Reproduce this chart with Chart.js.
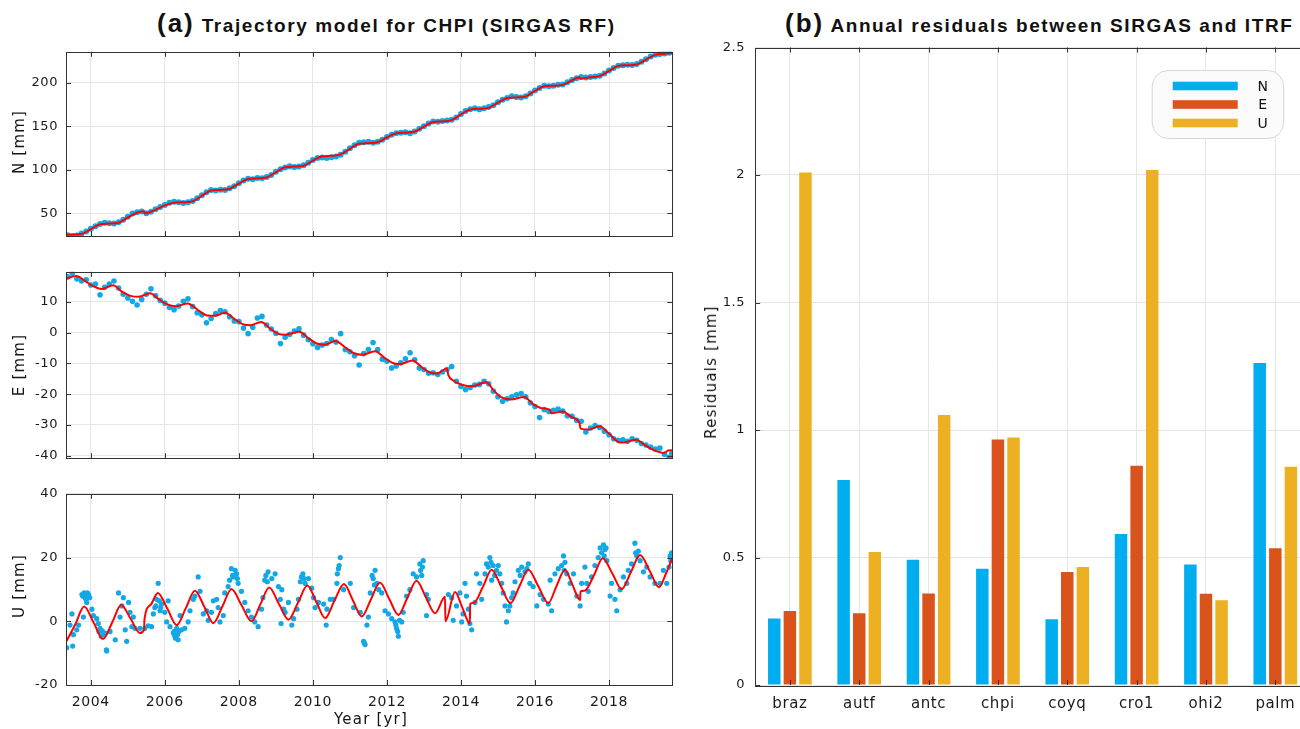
<!DOCTYPE html>
<html lang="en">
<head>
<meta charset="UTF-8">
<title>CHPI trajectory and SIRGAS / ITRF residuals</title>
<script src="https://cdn.jsdelivr.net/npm/chart.js@4.4.1/dist/chart.umd.min.js"></script>
<style>
    html, body { margin: 0; padding: 0; background: #fff; overflow: hidden; }
    body { width: 1300px; height: 729px; position: relative; font-family: 'Liberation Sans', Arial, sans-serif; }
    canvas { position: absolute; }
    .title { position: absolute; font-weight: bold; font-size: 19px; letter-spacing: 1.6px; white-space: nowrap; color: #111; line-height: 30px; }
    .title b { font-size: 26px; letter-spacing: 2px; }
    .axis-label { position: absolute; font-family: 'DejaVu Sans', sans-serif; font-size: 15px; letter-spacing: 1.2px; white-space: nowrap; color: #151515; transform: translate(-50%, -50%); }
    .axis-label.vertical { transform: translate(-50%, -50%) rotate(-90deg); }
</style>
</head>
<body>
<div class="title" style="left:157px; top:8px;"><b>(a)</b> Trajectory model for CHPI (SIRGAS RF)</div>
<div class="title" style="left:785px; top:8px;"><b>(b)</b> Annual residuals between SIRGAS and ITRF</div>
<canvas id="chart-n" width="690" height="216" style="left:0; top:36px;"></canvas>
<canvas id="chart-e" width="690" height="218" style="left:0; top:256px;"></canvas>
<canvas id="chart-u" width="690" height="251" style="left:0; top:478px;"></canvas>
<canvas id="chart-res" width="625" height="729" style="left:690px; top:0;"></canvas>
<div class="axis-label vertical" style="left:19px; top:142px;">N [mm]</div>
<div class="axis-label vertical" style="left:19px; top:365px;">E [mm]</div>
<div class="axis-label vertical" style="left:19px; top:586px;">U [mm]</div>
<div class="axis-label" style="left:371px; top:719px;">Year [yr]</div>
<div class="axis-label vertical" style="left:711px; top:372px;">Residuals [mm]</div>
<script>
// ---- data: time series (years, mm) ----
const gnssEpochs = [
    2003.375, 2003.5, 2003.625, 2003.75, 2003.875,
    2004.0, 2004.125, 2004.25, 2004.375, 2004.5, 2004.625, 2004.75, 2004.875,
    2005.0, 2005.125, 2005.25, 2005.375, 2005.5, 2005.625, 2005.75, 2005.875,
    2006.0, 2006.125, 2006.25, 2006.375, 2006.5, 2006.625, 2006.75, 2006.875,
    2007.0, 2007.125, 2007.25, 2007.375, 2007.5, 2007.625, 2007.75, 2007.875,
    2008.0, 2008.125, 2008.25, 2008.375, 2008.5, 2008.625, 2008.75, 2008.875,
    2009.0, 2009.125, 2009.25, 2009.375, 2009.5, 2009.625, 2009.75, 2009.875,
    2010.0, 2010.125, 2010.25, 2010.375, 2010.5, 2010.625, 2010.75, 2010.875,
    2011.0, 2011.125, 2011.25, 2011.375, 2011.5, 2011.625, 2011.75, 2011.875,
    2012.0, 2012.125, 2012.25, 2012.375, 2012.5, 2012.625, 2012.75, 2012.875,
    2013.0, 2013.125, 2013.25, 2013.375, 2013.5, 2013.625, 2013.75, 2013.875,
    2014.0, 2014.125, 2014.25, 2014.375, 2014.5, 2014.625, 2014.75, 2014.875,
    2015.0, 2015.125, 2015.25, 2015.375, 2015.5, 2015.625, 2015.75, 2015.875,
    2016.0, 2016.125, 2016.25, 2016.375, 2016.5, 2016.625, 2016.75, 2016.875,
    2017.0, 2017.125, 2017.25, 2017.375, 2017.5, 2017.625, 2017.75, 2017.875,
    2018.0, 2018.125, 2018.25, 2018.375, 2018.5, 2018.625, 2018.75, 2018.875,
    2019.0, 2019.125, 2019.25, 2019.375, 2019.5, 2019.625, 2019.7
];
const northObs = [
    24.5, 23.8, 24.2, 26.5, 29,
    32, 35, 37.5, 39, 38.5, 38, 39.5, 42.5,
    46, 49.5, 51, 52, 50, 51.5, 54.5, 57,
    59.5, 62, 63, 62.5, 61.8, 62.5, 64, 67,
    70.5, 74, 76.5, 76, 77, 76.5, 78.5, 81,
    84.5, 87.5, 89.5, 89, 90.5, 90, 91.5, 94,
    97.5, 100.5, 102.5, 104, 103, 103.5, 105, 108,
    111, 113.5, 114, 113.5, 114.2, 115, 117, 120.5,
    124.5, 128, 131, 131.5, 132, 131, 132, 134.5,
    137.5, 140, 142, 142.5, 143, 142, 144, 147,
    150, 153, 155.5, 155, 155.8, 156.5, 157.5, 160,
    164, 167.5, 169.5, 170.5, 169.5, 170.5, 172, 174,
    177.5, 180.5, 182.5, 184.5, 183.5, 183, 184.5, 187.5,
    191, 194, 196.5, 196, 196.5, 197.5, 198, 200.5,
    203, 205, 206.5, 206, 206.5, 207, 208, 210.5,
    214, 217, 219.5, 220, 220.5, 220.2, 221.5, 224,
    227, 230, 232, 233, 233.5, 234.5, 235.5
];
const eastObs = [
    18.2, 19.3, 17.5, 16.8, 17.2,
    15.5, 15.8, 12.3, 14.8, 15.8, 16.8, 14.5, 12.5,
    11.3, 10.2, 9, 10.8, 12.5, 14.3, 12, 10.5,
    9.6, 8.2, 7.5, 8.7, 10.2, 11, 8.5, 6.5,
    5.8, 3.2, 4.6, 6.2, 7.2, 6.8, 5.2, 3.8,
    3.6, 1.5, -0.3, 1.8, 4.8, 5.3, 2.5, 1.2,
    -0.2, -3.5, -1.5, -0.5, 0.5, 1.3, -0.8, -2.3,
    -3.6, -4.8, -4, -3.5, -2.2, -3, -0.3, -5.5,
    -6.2, -7.5, -10.5, -6.8, -5.5, -3.2, -5.5, -8.6,
    -9.3, -11.5, -10.8, -9.8, -8.5, -6.5, -8.8, -11.5,
    -12, -13.2, -13, -13.6, -12.8, -12, -11, -15.8,
    -17.5, -18.5, -17.8, -17, -16.8, -15.8, -16.6, -19,
    -20.8, -22.3, -21.5, -20.8, -20.2, -19.8, -20.8, -22.8,
    -24, -27.6, -25, -25.6, -25.2, -24.8, -25.5, -27,
    -27.2, -28.5, -28.8, -32.3, -31, -30.2, -30.8, -32,
    -33.2, -34.5, -35, -34.8, -35.3, -34.5, -35, -36,
    -36.5, -37.2, -37.8, -37.5, -39.5, -40.5, -39.2
];
const upEpochs = [
    2003.35, 2003.44, 2003.49, 2003.51, 2003.53, 2003.62, 2003.67, 2003.76, 2003.8, 2003.85,
    2003.89, 2003.94, 2004.03, 2004.07, 2004.16, 2004.2, 2004.25, 2004.34, 2004.39, 2004.43,
    2004.52, 2004.66, 2004.75, 2004.79, 2004.84, 2004.88, 2004.93, 2004.97, 2005.02, 2005.06,
    2005.11, 2005.15, 2005.19, 2005.33, 2005.46, 2005.55, 2005.64, 2005.69, 2005.73, 2005.78,
    2005.82, 2005.87, 2005.91, 2006.0, 2006.05, 2006.09, 2006.14, 2006.23, 2006.27, 2006.32,
    2006.36, 2006.41, 2006.45, 2006.54, 2006.63, 2006.68, 2006.77, 2006.81, 2006.9, 2006.95,
    2007.04, 2007.13, 2007.17, 2007.26, 2007.31, 2007.4, 2007.44, 2007.49, 2007.58, 2007.62,
    2007.71, 2007.8, 2007.85, 2007.94, 2007.98, 2008.07, 2008.16, 2008.25, 2008.34, 2008.43,
    2008.52, 2008.61, 2008.65, 2008.7, 2008.79, 2008.89, 2008.98, 2009.07, 2009.12, 2009.14,
    2009.16, 2009.21, 2009.25, 2009.34, 2009.43, 2009.48, 2009.57, 2009.61, 2009.66, 2009.73,
    2009.79, 2009.88, 2009.97, 2010.02, 2010.06, 2010.15, 2010.29, 2010.36, 2010.38, 2010.47,
    2010.56, 2010.65, 2010.66, 2010.69, 2010.74, 2010.83, 2011.01, 2011.1, 2011.28, 2011.37,
    2011.41, 2011.46, 2011.5, 2011.55, 2011.6, 2011.68, 2011.73, 2011.78, 2011.86, 2011.95,
    2012.04, 2012.13, 2012.22, 2012.26, 2012.31, 2012.4, 2012.44, 2012.53, 2012.62, 2012.71,
    2012.8, 2012.89, 2012.94, 2012.98, 2013.07, 2013.07, 2013.12, 2013.66, 2013.75, 2013.79,
    2013.88, 2013.97, 2014.02, 2014.06, 2014.11, 2014.15, 2014.2, 2014.24, 2014.29, 2014.38,
    2014.42, 2014.51, 2014.56, 2014.65, 2014.69, 2014.78, 2014.83, 2014.87, 2014.96, 2015.01,
    2015.05, 2015.1, 2015.14, 2015.19, 2015.23, 2015.28, 2015.32, 2015.37, 2015.41, 2015.46,
    2015.55, 2015.64, 2015.73, 2015.82, 2015.86, 2015.95, 2016.05, 2016.14, 2016.23, 2016.36,
    2016.41, 2016.45, 2016.54, 2016.63, 2016.77, 2016.81, 2016.86, 2016.95, 2017.04, 2017.13,
    2017.22, 2017.26, 2017.35, 2017.4, 2017.44, 2017.53, 2017.62, 2017.71, 2017.76, 2017.85,
    2017.89, 2017.94, 2018.03, 2018.07, 2018.16, 2018.21, 2018.3, 2018.39, 2018.48, 2018.52,
    2018.61, 2018.7, 2018.75, 2018.84, 2018.93, 2019.02, 2019.11, 2019.24, 2019.38, 2019.47,
    2019.56, 2019.65, 2019.69,
    // denser clusters
    2003.78, 2003.82, 2003.87, 2003.91, 2003.97, 2004.22, 2004.28, 2004.31, 2004.42, 2005.76,
    2005.85, 2005.89, 2006.25, 2006.29, 2006.34, 2006.38, 2007.75, 2007.83, 2007.9, 2007.96,
    2008.73, 2008.77, 2009.69, 2009.76, 2010.71, 2011.39, 2011.63, 2011.66, 2012.24, 2012.29,
    2012.34, 2012.91, 2012.96, 2014.74, 2014.81, 2014.91, 2015.6, 2015.78, 2016.72, 2016.79,
    2017.8, 2017.87, 2017.92, 2018.72, 2018.79, 2019.62, 2019.67
];
const upObs = [
    -8.3, -1.2, 2.3, -7.8, -4.2, -2.7, -1.2, 8.4, 1.3, 7.4,
    5.9, 8.4, 3.8, 1.8, 0.8, -0.7, -2.2, -4.2, -3.7, -9.3,
    -3.2, -5.8, 8.9, 1.3, 4.8, 7.4, -2.7, -6.3, 5.9, 2.8,
    -1.7, 1.3, -2.2, -2.2, -2.2, -1.4, -1.7, 2.3, 4.3, 6.9,
    11.9, 3.3, 5.4, 2.8, -0.2, 6.4, -1.7, -3.7, -4.7, -2.2,
    -5.8, 1.8, -2.7, -2.2, -0.2, 3.3, 6.9, 7.9, 13.9, 9.4,
    2.3, 3.3, 0.3, 2.8, 6.4, 6.9, 4.3, -0.2, 1.8, 8.9,
    10.9, 16.5, 13.9, 14.9, 11.9, 9.4, 5.9, 3.3, 1.3, -0.2,
    -1.7, 3.8, 7.4, 12.9, 15.5, 13.4, 14.9, 10.9, 6.9, -0.7,
    9.9, 3.8, 2.8, 5.9, -1.2, 0.8, 3.8, 6.9, 12.4, 14.9,
    11.9, 13.4, 10.4, 7.4, 4.3, 5.9, 5.4, -1.2, 3.8, 6.9,
    6.9, 11.9, 14.9, 16.5, 20, 9.9, 11.9, 4.3, 2.8, -6.3,
    -7.3, -1.2, 1.3, 8.9, 14.4, 16, 11.9, 9.9, 8.9, 3.3,
    2.3, 0.8, -0.2, -2.2, -4.7, -0.2, 2.8, 7.9, 9.9, 14.9,
    13.9, 18, 14.4, 19, 8.4, 1.8, 6.9, 8.4, 7.4, 0.3,
    4.8, 8.9, -0.2, 2.3, 11.9, 7.9, 3.8, -0.7, -2.7, 5.9,
    14.9, 11.9, 6.9, 14.9, 18, 20, 12.9, 17.5, 16, 17.5,
    14.9, 11.9, 8.9, 4.8, -0.2, 3.3, 4.8, 7.4, 8.9, 12.4,
    16, 17, 15.5, 18, 11.9, 10.9, 4.8, 8.4, 6.9, 5.4,
    12.9, 3.3, 14.9, 16.5, 20.5, 18.5, 14.9, 11.9, 14.9, 7.9,
    4.8, 11.9, 17, 11.9, 9.4, 13.9, 17.5, 20, 23, 24,
    22.5, 19, 7.9, 11.9, 6.9, 3.3, 9.9, 13.9, 11.9, 16,
    18, 24.5, 20.5, 19, 15.5, 17, 13.9, 11.9, 11.9, 16,
    11.9, 20.5, 21.5,
    // denser clusters
    7.9, 8.9, 6.9, 8.9, 7.4, -3.2, -4.7, -3, -9, 4.8,
    6.4, 4.3, -3.2, -5.3, -4.2, -3.2, 12.9, 14.4, 16, 13.4,
    14.4, 12.4, 13.9, 13.4, 17.5, -6.8, 13.4, 11.4, -1.2, -3.2,
    0.3, 16, 17, 17, 18.5, 14.4, 14.4, 16.5, 17.5, 16,
    21.5, 20.5, 23, 21.5, 22, 17, 19
];

// ---- data: trajectory model (red curves) ----
const northModelYears = [
    2003.35, 2003.5, 2003.75, 2004.0, 2004.25, 2004.5, 2004.75, 2005.0, 2005.25, 2005.44,
    2005.45, 2005.75, 2006.0, 2006.25, 2006.5, 2006.75, 2007.0, 2007.25, 2007.5, 2007.75,
    2008.0, 2008.25, 2008.5, 2008.75, 2009.0, 2009.25, 2009.5, 2009.75, 2010.0, 2010.25,
    2010.5, 2010.75, 2011.0, 2011.25, 2011.5, 2011.75, 2012.0, 2012.25, 2012.5, 2012.75,
    2013.0, 2013.25, 2013.5, 2013.75, 2014.0, 2014.25, 2014.5, 2014.75, 2015.0, 2015.25,
    2015.5, 2015.75, 2016.0, 2016.25, 2016.5, 2016.75, 2017.0, 2017.2, 2017.22, 2017.5,
    2017.75, 2018.0, 2018.25, 2018.5, 2018.75, 2019.0, 2019.25, 2019.5, 2019.7
];
const northModel = [
    25, 25.3, 26, 31.5, 37.3, 38, 39, 45, 50.5, 52.2,
    49.8, 54, 59, 62, 62.5, 63.5, 70, 76, 76.7, 78,
    84, 89.3, 90, 91, 97, 102.7, 103.5, 104.5, 110.5, 115.3,
    116, 117.5, 124, 129.8, 130.5, 131.5, 137, 141.8, 142.5, 143.8,
    149.5, 154.8, 155.5, 157, 163.5, 169.2, 170, 171, 177, 182.3,
    183, 184.3, 190.5, 195.8, 196.5, 197.5, 202.5, 206.3, 204.6, 206.2,
    207.5, 213.5, 219.3, 220, 221, 226.5, 232, 233.3, 234
];
const eastModelYears = [
    2003.35, 2003.6, 2003.85, 2004.05, 2004.3, 2004.6, 2004.85, 2005.1, 2005.3, 2005.6,
    2005.85, 2006.05, 2006.3, 2006.62, 2006.9, 2007.15, 2007.35, 2007.62, 2007.9, 2008.1,
    2008.3, 2008.6, 2008.85, 2009.05, 2009.25, 2009.63, 2009.9, 2010.1, 2010.32, 2010.6,
    2010.9, 2011.1, 2011.33, 2011.68, 2011.95, 2012.15, 2012.35, 2012.69, 2012.95, 2013.15,
    2013.35, 2013.62, 2013.66, 2013.8, 2014.05, 2014.3, 2014.68, 2014.9, 2015.1, 2015.35,
    2015.7, 2015.95, 2016.2, 2016.4, 2016.44, 2016.75, 2017.0, 2017.2, 2017.23, 2017.45,
    2017.75, 2018.0, 2018.3, 2018.45, 2018.72, 2019.0, 2019.3, 2019.48, 2019.6, 2019.7
];
const eastModel = [
    17.6, 18.4, 16.8, 15.2, 14.2, 15.4, 13.3, 11.9, 11.7, 12.8,
    10.8, 9.3, 8.6, 9.5, 7.3, 5.6, 5.5, 6.5, 4.3, 2.8,
    2.4, 3.5, 1.3, -0.3, -0.7, 0.3, -2, -3.5, -3.9, -2.7,
    -5, -6.6, -7.2, -6, -8.3, -9.8, -10.2, -9, -11.3, -12.9,
    -13.3, -11.6, -13.8, -15.6, -17, -17.4, -16.1, -19, -21, -21.7,
    -20.9, -23.2, -24.6, -25, -26.2, -25.6, -27.5, -29.3, -31.2, -31.5,
    -30.4, -32.8, -35.7, -35.6, -34.8, -36.8, -38.6, -39.1, -38.3, -38.2
];
const upModelYears = [
    2003.33, 2003.58, 2003.82, 2004.08, 2004.33, 2004.58, 2004.82, 2005.08, 2005.33, 2005.44,
    2005.45, 2005.62, 2005.81, 2006.07, 2006.32, 2006.57, 2006.81, 2007.07, 2007.31, 2007.56,
    2007.8, 2008.07, 2008.34, 2008.58, 2008.82, 2009.08, 2009.34, 2009.6, 2009.85, 2010.09,
    2010.33, 2010.58, 2010.84, 2011.08, 2011.32, 2011.57, 2011.81, 2012.06, 2012.31, 2012.55,
    2012.8, 2013.05, 2013.3, 2013.57, 2013.58, 2013.84, 2014.04, 2014.24, 2014.25, 2014.35,
    2014.6, 2014.83, 2015.08, 2015.34, 2015.58, 2015.82, 2016.09, 2016.36, 2016.58, 2016.81,
    2017.01, 2017.22, 2017.23, 2017.34, 2017.6, 2017.83, 2018.09, 2018.34, 2018.59, 2018.84,
    2019.1, 2019.35, 2019.55, 2019.71
];
const upModel = [
    -6.5, -1, 4.6, -0.5, -5.6, -0.3, 5.1, 0.7, -3.7, -2.6,
    0.6, 5.2, 8.9, 3.9, -1.2, 4.2, 9.6, 4.5, -0.6, 4.8,
    10.1, 5.1, 0, 5.3, 10.6, 5.5, 0.5, 5.9, 11.2, 6.1,
    1, 6.4, 11.7, 6.6, 1.5, 6.9, 12.2, 7.1, 2, 7.3,
    12.7, 7.6, 2.5, 7.7, 0, 9.2, 4.2, -0.7, 5.4, 5.8,
    11, 16.2, 11, 5.7, 11, 16.2, 11, 5.7, 11, 16.2,
    11.5, 6.7, 9.4, 9.6, 14.6, 19.8, 15, 10.1, 15.4, 20.8,
    15.8, 10.7, 15.3, 19.8
];

// ---- data: annual residuals per station ----
const stations = ['braz', 'autf', 'antc', 'chpi', 'coyq', 'cro1', 'ohi2', 'palm'];
const residualN = [0.261, 0.804, 0.491, 0.456, 0.258, 0.592, 0.473, 1.263];
const residualE = [0.290, 0.281, 0.359, 0.963, 0.443, 0.860, 0.358, 0.536];
const residualU = [2.010, 0.522, 1.059, 0.971, 0.463, 2.020, 0.332, 0.856];

// ---- tick labels ----
const yearTicks = [2004, 2006, 2008, 2010, 2012, 2014, 2016, 2018];
const northTicks = [50, 100, 150, 200];
const eastTicks = [-40, -30, -20, -10, 0, 10];
const upTicks = [-20, 0, 20, 40];
const residualTicks = [0, 0.5, 1, 1.5, 2, 2.5];

const dotBlue = '#12a8e6';
const modelRed = '#ff0000';
const gridColor = '#e6e6e6';
const axisColor = '#333333';

Chart.defaults.font.family = "'DejaVu Sans', sans-serif";
Chart.defaults.color = '#1a1a1a';

function pairs(xs, ys) {
    return xs.map((x, i) => ({ x: x, y: ys[i] }));
}

function fixedTicks(values) {
    return function (scale) { scale.ticks = values.map(v => ({ value: v })); };
}

// box around the plot area with short ticks pointing inwards
const matlabBox = {
    id: 'matlabBox',
    beforeDraw(chart) {
        chart.ctx.letterSpacing = '0.6px';
    },
    afterDraw(chart) {
        const ctx = chart.ctx, a = chart.chartArea;
        const xs = chart.scales.x, ys = chart.scales.y;
        ctx.save();
        ctx.strokeStyle = axisColor;
        ctx.lineWidth = 1;
        ctx.beginPath();
        xs.ticks.forEach((t, i) => {
            const px = Math.round(xs.getPixelForTick(i)) + 0.5;
            ctx.moveTo(px, a.bottom); ctx.lineTo(px, a.bottom - 5);
            ctx.moveTo(px, a.top); ctx.lineTo(px, a.top + 5);
        });
        ys.ticks.forEach((t, i) => {
            const py = Math.round(ys.getPixelForTick(i)) + 0.5;
            ctx.moveTo(a.left, py); ctx.lineTo(a.left + 5, py);
            ctx.moveTo(a.right, py); ctx.lineTo(a.right - 5, py);
        });
        ctx.stroke();
        ctx.strokeRect(Math.round(a.left) + 0.5, Math.round(a.top) + 0.5, Math.round(a.right - a.left), Math.round(a.bottom - a.top));
        ctx.restore();
    }
};

function seriesChart(id, obsX, obsY, modX, modY, yMin, yMax, yTicks, dotSize, showYears) {
    return new Chart(document.getElementById(id), {
        type: 'scatter',
        data: {
            datasets: [{
                label: 'model',
                data: pairs(modX, modY),
                showLine: true,
                borderColor: modelRed,
                borderWidth: 2,
                pointRadius: 0,
                cubicInterpolationMode: 'monotone',
                clip: 0,
                order: 0
            }, {
                label: 'observed',
                data: pairs(obsX, obsY),
                backgroundColor: dotBlue,
                borderWidth: 0,
                pointRadius: dotSize,
                clip: 0,
                order: 1
            }]
        },
        options: {
            responsive: false,
            animation: false,
            devicePixelRatio: 1,
            layout: { padding: { top: 10, bottom: showYears ? 0 : 10, right: 17.7, left: 0 } },
            plugins: { legend: { display: false }, tooltip: { enabled: false } },
            scales: {
                x: {
                    type: 'linear',
                    min: 2003.33,
                    max: 2019.71,
                    afterBuildTicks: fixedTicks(yearTicks),
                    afterFit: s => { s.height = showYears ? 44 : 0; },
                    grid: { color: gridColor, drawTicks: false },
                    border: { display: false },
                    ticks: { display: showYears, padding: 9, font: { size: 14 }, callback: v => String(v) }
                },
                y: {
                    min: yMin,
                    max: yMax,
                    afterBuildTicks: fixedTicks(yTicks),
                    afterFit: s => { s.width = 66; },
                    grid: { color: gridColor, drawTicks: false },
                    border: { display: false },
                    ticks: { padding: 8, font: { size: 13 }, callback: v => String(v) }
                }
            }
        },
        plugins: [matlabBox]
    });
}

seriesChart('chart-n', gnssEpochs, northObs, northModelYears, northModel, 23.5, 235.5, northTicks, 3, false);
seriesChart('chart-e', gnssEpochs, eastObs, eastModelYears, eastModel, -40.8, 19.8, eastTicks, 2.8, false);
seriesChart('chart-u', upEpochs, upObs, upModelYears, upModel, -20, 40, upTicks, 2.6, true);

// rounded legend box inside the bar plot
const boxLegend = {
    id: 'boxLegend',
    afterDraw(chart) {
        const ctx = chart.ctx;
        const x0 = 1151.7 - 690, y0 = 70, w = 131.5, h = 68, r = 16;
        ctx.save();
        ctx.beginPath();
        ctx.roundRect(x0 + 0.5, y0 + 0.5, w, h, r);
        ctx.fillStyle = '#fbfbfb';
        ctx.fill();
        ctx.strokeStyle = '#d6d6d6';
        ctx.lineWidth = 1;
        ctx.stroke();
        ctx.font = "14px 'DejaVu Sans', sans-serif";
        ctx.textAlign = 'center';
        ctx.textBaseline = 'middle';
        chart.data.datasets.forEach((ds, i) => {
            const cy = 86 + i * 18.5;
            ctx.fillStyle = ds.backgroundColor;
            ctx.fillRect(1172.7 - 690, cy - 4.3, 65, 8.6);
            ctx.fillStyle = '#111';
            ctx.fillText(ds.label, 1263 - 690, cy + 1);
        });
        ctx.restore();
    }
};

new Chart(document.getElementById('chart-res'), {
    type: 'bar',
    data: {
        labels: stations,
        datasets: [
            { label: 'N', data: residualN, backgroundColor: '#00adef' },
            { label: 'E', data: residualE, backgroundColor: '#d9531a' },
            { label: 'U', data: residualU, backgroundColor: '#ecb022' }
        ]
    },
    options: {
        responsive: false,
        animation: false,
        devicePixelRatio: 1,
        categoryPercentage: 0.675,
        barPercentage: 0.8,
        layout: { padding: { top: 47.5, bottom: 0, right: 5, left: 0 } },
        plugins: { legend: { display: false }, tooltip: { enabled: false } },
        scales: {
            x: {
                afterFit: s => { s.height = 44; },
                grid: { color: gridColor, drawTicks: false, offset: false },
                border: { display: false },
                ticks: { padding: 10, font: { size: 15 } }
            },
            y: {
                min: 0,
                max: 2.5,
                afterBuildTicks: fixedTicks(residualTicks),
                afterFit: s => { s.width = 65.2; },
                grid: { color: gridColor, drawTicks: false },
                border: { display: false },
                ticks: { padding: 10, font: { size: 13 }, callback: v => String(v) }
            }
        }
    },
    plugins: [matlabBox, boxLegend]
});
</script>
</body>
</html>
